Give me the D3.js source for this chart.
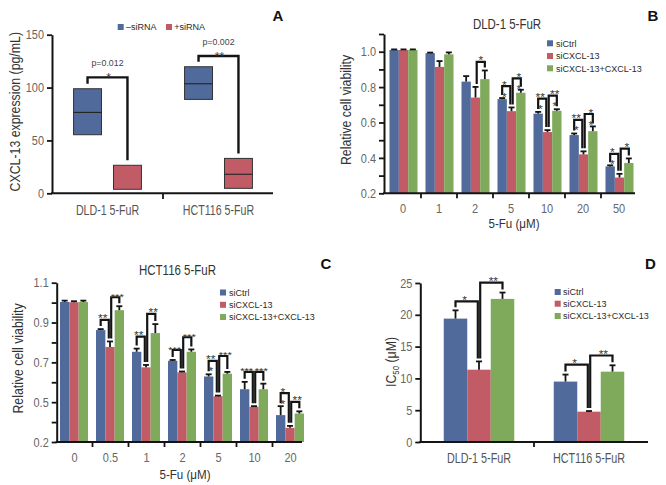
<!DOCTYPE html>
<html><head><meta charset="utf-8">
<script src="https://cdn.jsdelivr.net/npm/d3@7"></script>
<style>body{margin:0;background:#fff}svg{display:block}</style>
</head><body><svg id="c" width="666" height="485"></svg>
<script>
// ================= DATA =================
const seriesNames = ["siCtrl", "siCXCL-13", "siCXCL-13+CXCL-13"];
const seriesColors = ["#4f6a9b", "#c15c67", "#7faa5b"];

// ---- Panel A : CXCL-13 expression (box ranges) ----
const aCategories = ["DLD-1 5-FuR", "HCT116 5-FuR"];
const aGroups = ["\u2013siRNA", "+siRNA"];
const aLowMinus = [55.4, 88.8];
const aMedianMinus = [76.5, 103.6];
const aHighMinus = [98.9, 119.7];
const aLowPlus = [3.8, 4.7];
const aMedianPlus = [null, 18];
const aHighPlus = [26.5, 33];
const aBracketLevel = [109.6, 129.8];
const aPValues = ["p=0.012", "p=0.002"];
const aStars = ["*", "**"];
const aTicks = [0, 50, 100, 150];

// ---- Panel B : DLD-1 5-FuR viability ----
const bDoses = ["0", "1", "2", "5", "10", "20", "50"];
const bCtrl = [1.01, 0.992, 0.831, 0.732, 0.650, 0.529, 0.352];
const bCtrlSE = [0.003, 0.003, 0.031, 0.006, 0.010, 0.009, 0.006];
const bSi = [1.01, 0.914, 0.741, 0.664, 0.546, 0.420, 0.289];
const bSiSE = [0.003, 0.033, 0.060, 0.021, 0.011, 0.017, 0.021];
const bRescue = [1.01, 0.985, 0.845, 0.768, 0.666, 0.551, 0.371];
const bRescueSE = [0.003, 0.011, 0.049, 0.017, 0.009, 0.027, 0.026];
const bTickValues = [0.2, 0.3, 0.4, 0.5, 0.6, 0.7, 0.8, 0.9, 1.0, 1.1];
const bTickLabels = ["0.2", "", "0.4", "", "0.6", "", "0.8", "", "1.0", ""];
// significance brackets: group index, from series, to series, level, label, inner label
const bBrGroup = [2, 3, 3, 4, 4, 5, 5, 6, 6];
const bBrFrom  = [1, 0, 1, 0, 1, 0, 1, 0, 1];
const bBrTo    = [2, 1, 2, 1, 2, 1, 2, 1, 2];
const bBrLevel = [0.942, 0.806, 0.849, 0.735, 0.752, 0.615, 0.648, 0.423, 0.452];
const bBrLabel = ["*", "*", "*", "**", "**", "**", "*", "*", "*"];
const bBrInner = ["", "*", "*", "*", "*", "*", "*", "*", ""];

// ---- Panel C : HCT116 5-FuR viability ----
const cDoses = ["0", "0.5", "1", "2", "5", "10", "20"];
const cCtrl = [1.003, 0.862, 0.753, 0.708, 0.629, 0.565, 0.435];
const cCtrlSE = [0.007, 0.005, 0.016, 0.004, 0.011, 0.037, 0.045];
const cSi = [1.002, 0.777, 0.675, 0.650, 0.530, 0.477, 0.371];
const cSiSE = [0.005, 0.028, 0.012, 0.004, 0.003, 0.003, 0.010];
const cRescue = [1.003, 0.962, 0.847, 0.753, 0.643, 0.565, 0.443];
const cRescueSE = [0.007, 0.020, 0.045, 0.012, 0.009, 0.028, 0.011];
const cTickValues = [0.3, 0.4, 0.5, 0.6, 0.7, 0.8, 0.9, 1.0, 1.1];
const cTickLabels = ["0.2", "", "0.5", "", "0.7", "", "0.9", "", "1.1"];
const cBrGroup = [1, 1, 2, 2, 3, 3, 4, 4, 5, 5, 6, 6];
const cBrFrom  = [0, 1, 0, 1, 0, 1, 0, 1, 0, 1, 0, 1];
const cBrTo    = [1, 2, 1, 2, 1, 2, 1, 2, 1, 2, 1, 2];
const cBrLevel = [0.913, 1.027, 0.829, 0.943, 0.762, 0.826, 0.707, 0.732, 0.652, 0.652, 0.545, 0.502];
const cBrLabel = ["**", "***", "**", "**", "***", "***", "**", "***", "***", "***", "*", "**"];
const cBrInner = ["", "", "", "", "", "", "*", "", "", "", "*", ""];

// ---- Panel D : IC50 ----
const dCategories = ["DLD-1 5-FuR", "HCT116 5-FuR"];
const dCtrl = [19.4, 9.5];
const dCtrlSE = [1.3, 1.1];
const dSi = [11.37, 4.77];
const dSiSE = [1.3, 0.1];
const dRescue = [22.5, 11.06];
const dRescueSE = [1.0, 1.0];
const dTickValues = [0, 5, 10, 15, 20, 25];
const dTickLabels = ["0", "5", "10", "15", "20", "25"];
const dBrGroup = [0, 0, 1, 1];
const dBrFrom  = [0, 1, 0, 1];
const dBrTo    = [1, 2, 1, 2];
const dBrLevel = [22.1, 25.05, 12.16, 13.6];
const dBrLabel = ["*", "**", "*", "**"];
const dBrInner = ["", "", "", ""];

// ================= DRAWING =================
const FONT = "'Liberation Sans', Arial, Helvetica, sans-serif";
const INK = "#141414";
const svg = d3.select("#c");

function T(parent, x, y, s, o = {}) {
  const g = parent.append("g")
    .attr("transform", `translate(${x},${y})` + (o.rot ? ` rotate(${o.rot})` : "") + ` scale(${o.sx || 0.85},${o.sy || 1})`);
  return g.append("text")
    .attr("font-family", FONT)
    .attr("font-size", o.size || 12)
    .attr("font-weight", o.weight || "normal")
    .attr("fill", o.fill || "#333")
    .attr("text-anchor", o.anchor || "middle")
    .text(s);
}

function yAxis(scale, x, vals, labels) {
  const sx = 0.84;
  const ax = d3.axisLeft(scale).tickValues(vals).tickSize(5).tickSizeOuter(0)
    .tickFormat((d, i) => labels[i]);
  const g = svg.append("g").attr("transform", `translate(${x},0)`).call(ax);
  g.select(".domain").attr("stroke", INK).attr("stroke-width", 2);
  g.selectAll(".tick line").attr("stroke", INK).attr("stroke-width", 1.8);
  g.selectAll(".tick text").attr("font-family", FONT).attr("font-size", 13)
    .attr("fill", "#666").attr("x", -8 / sx).attr("transform", `scale(${sx},1)`);
  return g;
}

function xAxisBand(scale, x0, x1, yBase, labelBaseline, labelOpts) {
  svg.append("line").attr("x1", x0 - 1).attr("x2", x1).attr("y1", yBase).attr("y2", yBase)
    .attr("stroke", INK).attr("stroke-width", 2);
  const dom = scale.domain();
  dom.slice(1).forEach(d => {
    const xx = scale(d);
    svg.append("line").attr("x1", xx).attr("x2", xx).attr("y1", yBase).attr("y2", yBase + 5)
      .attr("stroke", INK).attr("stroke-width", 1.8);
  });
  dom.forEach(d => T(svg, scale(d) + scale.bandwidth() / 2, labelBaseline, d, labelOpts));
}

function legend(x, rows, tx) {
  seriesNames.forEach((n, i) => {
    svg.append("rect").attr("x", x).attr("y", rows[i] - 3).attr("width", 6).attr("height", 6)
      .attr("fill", seriesColors[i]);
    T(svg, tx, rows[i] + 3.4, n, { size: 9.5, sx: 0.95, anchor: "start", fill: "#2a2a2a" });
  });
}

function barPanel(cfg) {
  const { x, xi, y, cats, means, ses } = cfg;
  const base = y(y.domain()[0]);
  const bw = xi.bandwidth();
  const cx = (s, i) => x(cats[i]) + xi(s) + bw / 2;
  means.forEach((vals, s) => {
    vals.forEach((v, i) => {
      svg.append("rect").attr("x", x(cats[i]) + xi(s)).attr("y", y(v))
        .attr("width", bw).attr("height", base - y(v)).attr("fill", seriesColors[s]);
    });
  });
  means.forEach((vals, s) => {
    vals.forEach((v, i) => {
      const c = cx(s, i), top = y(v + ses[s][i]);
      svg.append("line").attr("x1", c).attr("x2", c).attr("y1", y(v)).attr("y2", top)
        .attr("stroke", INK).attr("stroke-width", 1.8);
      svg.append("line").attr("x1", c - 3).attr("x2", c + 3).attr("y1", top).attr("y2", top)
        .attr("stroke", INK).attr("stroke-width", 1.8);
    });
  });
  const perGroup = d3.rollup(cfg.brGroup, v => v.length, d => d);
  cfg.brGroup.forEach((gi, k) => {
    const a = cfg.brFrom[k], b = cfg.brTo[k];
    const xa = cx(a, gi) + (a === 1 ? 1.2 : 0);
    const xb = cx(b, gi) - (b === 1 ? 1.2 : 0);
    const ya = y(means[a][gi] + ses[a][gi]) - 3;
    const yb = y(means[b][gi] + ses[b][gi]) - 3;
    const L = y(cfg.brLevel[k]);
    svg.append("path").attr("d", `M${xa},${ya}V${L}H${xb}V${yb}`)
      .attr("fill", "none").attr("stroke", INK).attr("stroke-width", 2.2);
    const nudge = perGroup.get(gi) > 1 ? (a === 0 ? -2 : 2) : 0;
    const mid = (xa + xb) / 2 + nudge;
    const fs = cfg.brLabel[k].length > 2 ? 11 : 12;
    T(svg, mid, L + 2.5, cfg.brLabel[k], { size: fs, sx: 1, sy: 0.85, fill: "#333" });
    if (cfg.brInner[k]) T(svg, mid, L + 14.5, cfg.brInner[k], { size: 12, sx: 1, sy: 0.85, fill: "#333" });
  });
}

// ---------- Panel A ----------
(function () {
  const y = d3.scaleLinear().domain([0, 150]).range([193.3, 34.7]);
  const x = d3.scaleBand().domain(aCategories).range([52, 274]);
  const xi = d3.scaleBand().domain(aGroups).range([0, x.bandwidth()]).paddingInner(0.3).paddingOuter(0.54);
  yAxis(y, 52, aTicks, aTicks.map(String));
  svg.append("line").attr("x1", 51).attr("x2", 273).attr("y1", 193.3).attr("y2", 193.3)
    .attr("stroke", INK).attr("stroke-width", 2);
  aCategories.slice(1).forEach(c => svg.append("line").attr("x1", x(c)).attr("x2", x(c))
    .attr("y1", 193.3).attr("y2", 199).attr("stroke", INK).attr("stroke-width", 1.8));
  aCategories.forEach(c => T(svg, x(c) + x.bandwidth() / 2, 215, c, { size: 14, sx: 0.76, fill: "#555" }));

  const groups = [
    { lo: aLowMinus, med: aMedianMinus, hi: aHighMinus },
    { lo: aLowPlus, med: aMedianPlus, hi: aHighPlus }
  ];
  const w = xi.bandwidth();
  aCategories.forEach((c, i) => {
    groups.forEach((g, s) => {
      const x0 = x(c) + xi(aGroups[s]);
      svg.append("rect").attr("x", x0).attr("y", y(g.hi[i])).attr("width", w)
        .attr("height", y(g.lo[i]) - y(g.hi[i])).attr("fill", seriesColors[s])
        .attr("stroke", "#333").attr("stroke-width", 1);
      if (g.med[i] != null) svg.append("line").attr("x1", x0).attr("x2", x0 + w)
        .attr("y1", y(g.med[i])).attr("y2", y(g.med[i])).attr("stroke", "#222").attr("stroke-width", 1.1);
    });
    const xa = x(c) + xi(aGroups[0]) + w / 2, xb = x(c) + xi(aGroups[1]) + w / 2;
    const L = y(aBracketLevel[i]);
    svg.append("path").attr("d", `M${xa},${y(aHighMinus[i]) - 5}V${L}H${xb}V${y(aHighPlus[i]) - 5}`)
      .attr("fill", "none").attr("stroke", INK).attr("stroke-width", 2.4);
    T(svg, (xa + xb) / 2, L - 11, aPValues[i], { size: 9.5, sx: 0.93, fill: "#444" });
    T(svg, (xa + xb) / 2 + 1, L + 5, aStars[i], { size: 12, sx: 1, fill: "#333" });
  });
  const lx = [117.7, 166];
  aGroups.forEach((g, s) => {
    svg.append("rect").attr("x", lx[s]).attr("y", 24).attr("width", 6).attr("height", 6).attr("fill", seriesColors[s]);
    T(svg, lx[s] + 8.3, 30.4, g, { size: 9.5, sx: 0.95, anchor: "start", fill: "#2a2a2a" });
  });
  T(svg, 20, 111.7, "CXCL-13 expression (pg/mL)", { rot: -90, size: 14, sx: 0.88, fill: "#333" });
  T(svg, 278, 20.5, "A", { size: 15, sx: 1, weight: "bold", fill: "#111" });
})();

// ---------- Panel B ----------
(function () {
  const y = d3.scaleLinear().domain([0.2, 1.1]).range([193.3, 34]);
  const x = d3.scaleBand().domain(bDoses).range([385, 637]);
  const xi = d3.scaleBand().domain([0, 1, 2]).range([4.5, 32.5]);
  barPanel({ x, xi, y, cats: bDoses, means: [bCtrl, bSi, bRescue], ses: [bCtrlSE, bSiSE, bRescueSE],
    brGroup: bBrGroup, brFrom: bBrFrom, brTo: bBrTo, brLevel: bBrLevel, brLabel: bBrLabel, brInner: bBrInner });
  yAxis(y, 384, bTickValues, bTickLabels);
  xAxisBand(x, 384, 635, 193.3, 213, { size: 12.5, sx: 0.88, fill: "#666" });
  legend(547, [43.3, 56, 68.3], 556);
  T(svg, 507, 29, "DLD-1 5-FuR", { size: 14, sx: 0.82, fill: "#333" });
  T(svg, 514, 227.5, "5-Fu (\u03BCM)", { size: 13.5, sx: 0.86, fill: "#333" });
  T(svg, 351, 110, "Relative cell viability", { rot: -90, size: 14, sx: 0.88, fill: "#333" });
  T(svg, 653, 20.7, "B", { size: 15, sx: 1, weight: "bold", fill: "#111" });
})();

// ---------- Panel C ----------
(function () {
  const y = d3.scaleLinear().domain([0.3, 1.1]).range([442, 282.7]);
  const x = d3.scaleBand().domain(cDoses).range([56.5, 308.5]);
  const xi = d3.scaleBand().domain([0, 1, 2]).range([3.5, 31.5]);
  barPanel({ x, xi, y, cats: cDoses, means: [cCtrl, cSi, cRescue], ses: [cCtrlSE, cSiSE, cRescueSE],
    brGroup: cBrGroup, brFrom: cBrFrom, brTo: cBrTo, brLevel: cBrLevel, brLabel: cBrLabel, brInner: cBrInner });
  yAxis(y, 56.7, cTickValues, cTickLabels);
  xAxisBand(x, 56.7, 302, 442, 461.5, { size: 12.5, sx: 0.88, fill: "#666" });
  legend(220, [292.5, 304.8, 317], 229);
  T(svg, 177.5, 275.3, "HCT116 5-FuR", { size: 14, sx: 0.82, fill: "#333" });
  T(svg, 185, 478.5, "5-Fu (\u03BCM)", { size: 13.5, sx: 0.86, fill: "#333" });
  T(svg, 23, 358.5, "Relative cell viability", { rot: -90, size: 14, sx: 0.88, fill: "#333" });
  T(svg, 326, 268.7, "C", { size: 15, sx: 1, weight: "bold", fill: "#111" });
})();

// ---------- Panel D ----------
(function () {
  const y = d3.scaleLinear().domain([0, 25]).range([442, 283]);
  const x = d3.scaleBand().domain(dCategories).range([424, 644]);
  const xi = d3.scaleBand().domain([0, 1, 2]).range([19.75, 90.25]);
  barPanel({ x, xi, y, cats: dCategories, means: [dCtrl, dSi, dRescue], ses: [dCtrlSE, dSiSE, dRescueSE],
    brGroup: dBrGroup, brFrom: dBrFrom, brTo: dBrTo, brLevel: dBrLevel, brLabel: dBrLabel, brInner: dBrInner });
  yAxis(y, 420.3, dTickValues, dTickLabels);
  xAxisBand(x, 420.3, 648, 442, 463, { size: 14, sx: 0.77, fill: "#555" });
  legend(554.7, [292, 303.7, 316], 563);
  const t = T(svg, 396, 362, "", { rot: -90, size: 14, sx: 0.88, fill: "#333" });
  t.append("tspan").text("IC");
  t.append("tspan").attr("font-size", 9).attr("dy", 3).text("50");
  t.append("tspan").attr("dy", -3).text(" (\u03BCM)");
  T(svg, 650.3, 268.7, "D", { size: 15, sx: 1, weight: "bold", fill: "#111" });
})();
</script></body></html>
